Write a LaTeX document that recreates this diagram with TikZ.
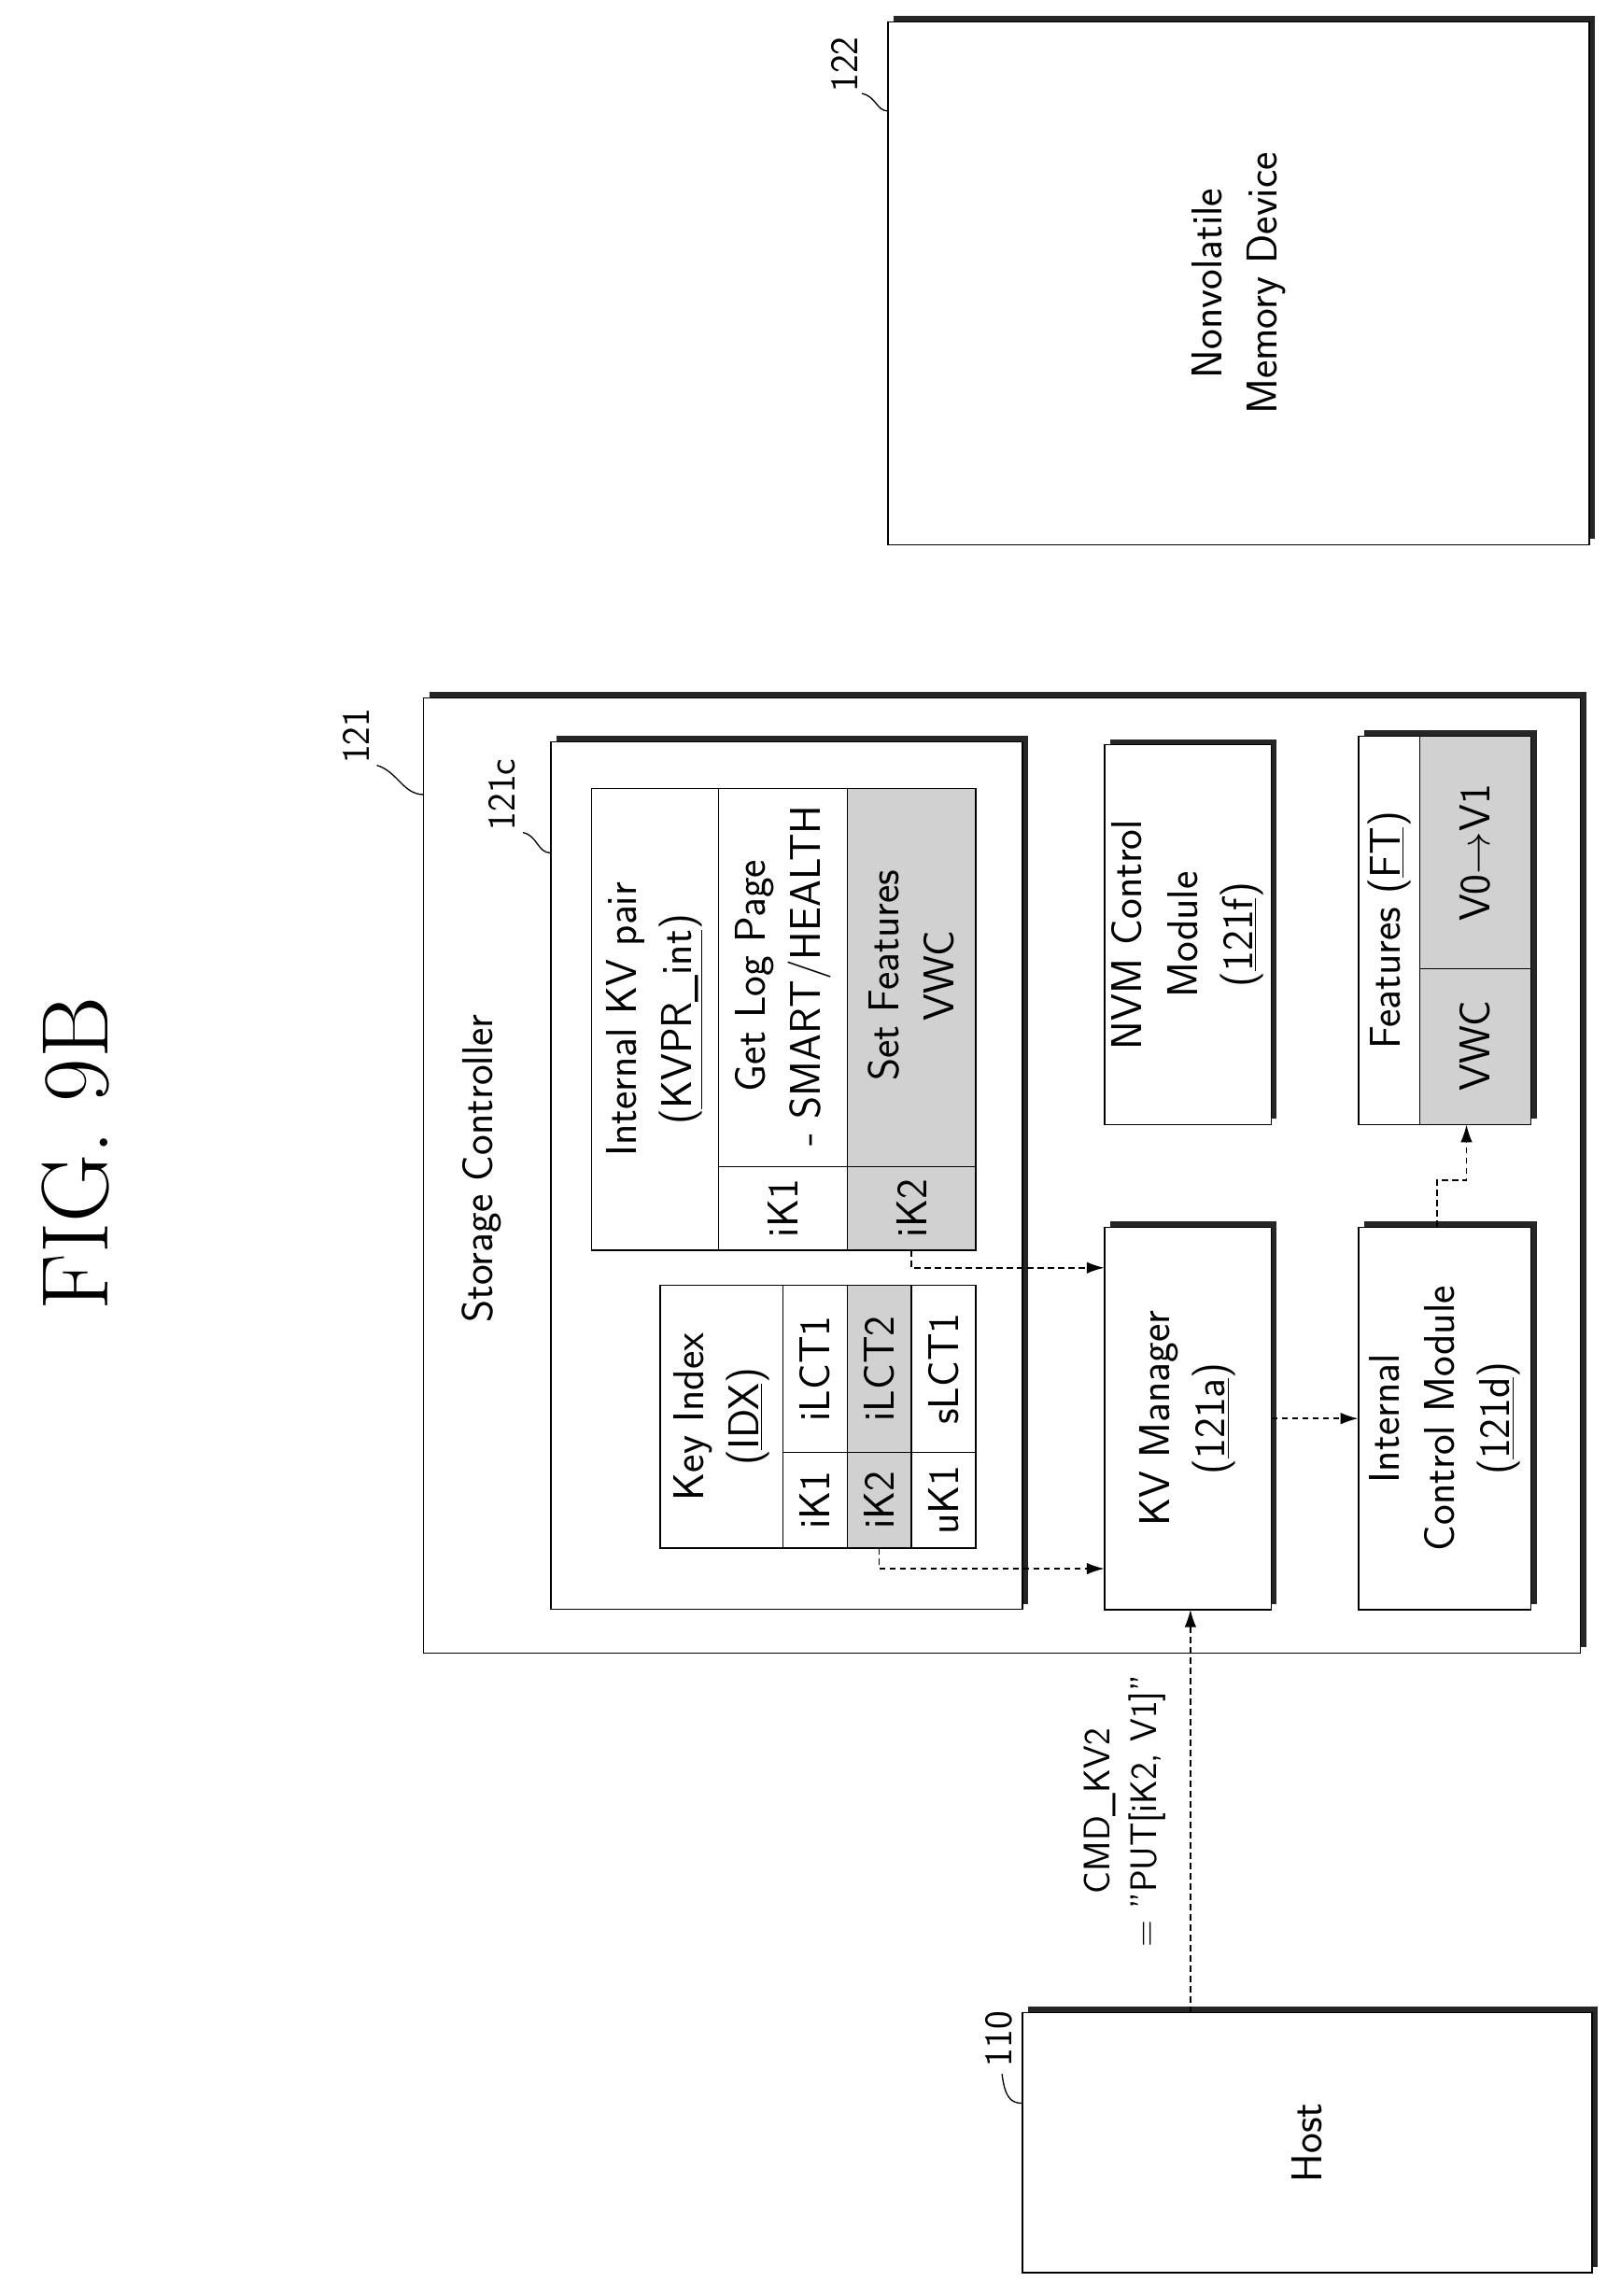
\documentclass[tikz,border=0pt]{standalone}
\usetikzlibrary{shadows,arrows.meta}
\tikzset{
  box/.style={draw,fill=white,line width=0.6pt,inner sep=0pt,
    general shadow={fill=black!85,shadow xshift=1mm,shadow yshift=1mm}},
  txt/.style={rotate=90,align=center,font=\sffamily\fontsize{21}{27}\selectfont},
  ref/.style={rotate=90,font=\sffamily\fontsize{19}{22}\selectfont},
  lead/.style={line width=0.6pt},
  cell/.style={line width=0.6pt},
  shade/.style={fill=black!18},
  flow/.style={densely dashed,line width=0.7pt,-{Latex[length=3mm,width=2mm]}}
}
\begin{document}
\begin{tikzpicture}
\useasboundingbox (0,0) rectangle (27.5,-39.3);
% title and reference numeral
\node[rotate=90,font=\rmfamily\fontsize{46}{50}\selectfont] (fig) at (1.3,-19.75) {FIG. 9B};
\node[ref] (r100) at (21.43,-3.2) {\underline{100}};
% nonvolatile memory device
\node[box,minimum width=12cm,minimum height=8.95cm] (nvm) at (21.2,-4.85) {};
\node[txt] (nvmt) at (nvm) {Nonvolatile\\Memory Device};
\node[ref] (r122) at (14.45,-1.1) {122};
\draw[lead] (14.75,-1.6) .. controls (15.0,-1.65) and (15.0,-1.9) .. (15.2,-1.9);
% storage controller
\node[box,minimum width=19.8cm,minimum height=16.35cm] (sc) at (17.15,-20.125) {};
\node[txt] (sct) at (8.25,-20) {Storage Controller};
\node[ref] (r121) at (6.1,-12.6) {121};
\draw[lead] (6.45,-13.1) .. controls (6.8,-13.2) and (6.9,-13.6) .. (7.25,-13.6);
% inner block 121c
\node[box,minimum width=8.07cm,minimum height=14.85cm] (mem) at (13.465,-20.125) {};
\node[ref] (r121c) at (8.6,-13.6) {121c};
\draw[lead] (8.95,-14.25) .. controls (9.2,-14.3) and (9.2,-14.6) .. (9.43,-14.6);
% internal KV pair table
\fill[shade] (14.5,-13.5) rectangle (16.7,-21.4);
\draw[cell] (10.13,-13.5) rectangle (16.7,-21.4);
\draw[cell] (12.3,-13.5) -- (12.3,-21.4) (14.5,-13.5) -- (14.5,-21.4)
  (12.3,-19.97) -- (16.7,-19.97);
\node[txt] (kvph) at (11.2,-17.45) {Internal KV pair\\(\underline{KVPR\_int})};
\node[txt] (kvpk1) at (13.4,-20.68) {iK1};
\node[txt] (kvpv1) at (13.4,-16.7) {Get Log Page\\- SMART/HEALTH};
\node[txt] (kvpk2) at (15.6,-20.68) {iK2};
\node[txt] (kvpv2) at (15.6,-16.7) {Set Features\\VWC};
% key index table
\fill[shade] (14.5,-22) rectangle (15.6,-26.5);
\draw[cell] (11.3,-22) rectangle (16.7,-26.5);
\draw[cell] (13.4,-22) -- (13.4,-26.5) (14.5,-22) -- (14.5,-26.5)
  (15.6,-22) -- (15.6,-26.5) (13.4,-24.86) -- (16.7,-24.86);
\node[txt] (idxh) at (12.35,-24.25) {Key Index\\(\underline{IDX})};
\node[txt] (idxk1) at (13.95,-25.68) {iK1};
\node[txt] (idxl1) at (13.95,-23.43) {iLCT1};
\node[txt] (idxk2) at (15.05,-25.68) {iK2};
\node[txt] (idxl2) at (15.05,-23.43) {iLCT2};
\node[txt] (idxk3) at (16.15,-25.68) {uK1};
\node[txt] (idxl3) at (16.15,-23.43) {sLCT1};
% modules
\node[box,minimum width=2.85cm,minimum height=6.55cm] (kvm) at (20.33,-24.28) {};
\node[txt] (kvmt) at (kvm) {KV Manager\\(\underline{121a})};
\node[box,minimum width=2.85cm,minimum height=6.5cm] (nvmc) at (20.33,-16.0) {};
\node[txt] (nvmct) at (nvmc) {NVM Control\\Module\\(\underline{121f})};
\node[box,minimum width=2.95cm,minimum height=6.55cm] (icm) at (24.73,-24.28) {};
\node[txt] (icmt) at (icm) {Internal\\Control Module\\(\underline{121d})};
% features table
\node[box,minimum width=2.95cm,minimum height=6.65cm] (ft) at (24.73,-15.925) {};
\fill[shade] (24.3,-12.6) rectangle (26.2,-19.25);
\draw[cell] (23.25,-12.6) rectangle (26.2,-19.25);
\draw[cell] (24.3,-12.6) -- (24.3,-19.25) (24.3,-16.58) -- (26.2,-16.58);
\node[txt] (fth) at (23.78,-15.925) {Features (\underline{FT})};
\node[txt] (ftk) at (25.25,-17.9) {VWC};
\node[txt] (ftv) at (25.25,-14.6) {V0$\rightarrow$V1};
% host
\node[box,minimum width=9.75cm,minimum height=4.45cm] (host) at (22.375,-36.675) {};
\node[txt] (hostt) at (host) {Host};
\node[ref] (r110) at (17.1,-34.9) {110};
\draw[lead] (17.15,-35.5) .. controls (17.2,-35.9) and (17.3,-36.0) .. (17.5,-36.0);
% connectors
\coordinate (cmd) at (20.375,-34.45);
\draw[flow] (cmd) -- (20.375,-27.55) coordinate (kvmin);
\node[txt,font=\sffamily\fontsize{18}{23}\selectfont] (cmdt) at (19.25,-31) {CMD\_KV2\\= "PUT[iK2, V1]"};
\draw[flow] (15.05,-26.5) -- (15.05,-26.85) -- (18.9,-26.85);
\draw[flow] (15.6,-21.4) -- (15.6,-21.7) -- (18.9,-21.7);
\draw[flow] (kvm.east) -- (icm.west);
\draw[flow] (24.6,-21.0) -- (24.6,-20.2) -- (25.1,-20.2) -- (25.1,-19.25);
\end{tikzpicture}
\end{document}
